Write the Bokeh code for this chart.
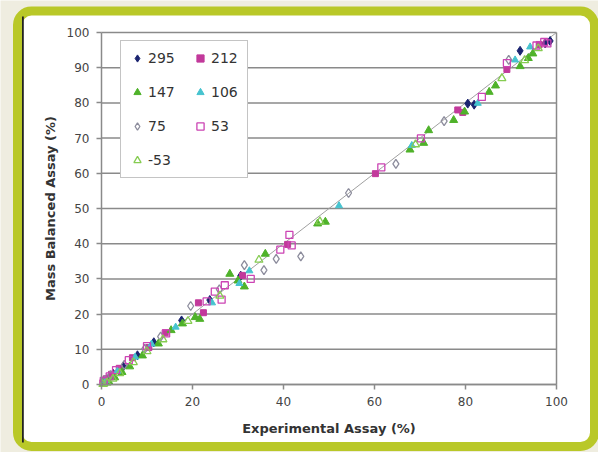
from bokeh.plotting import figure
from bokeh.models import BoxAnnotation, Legend, LegendItem, FixedTicker
from bokeh.embed import file_html
from bokeh.resources import INLINE

x_ticks = [0, 20, 40, 60, 80, 100]
y_ticks = [0, 10, 20, 30, 40, 50, 60, 70, 80, 90, 100]
diag_x = [0, 100]
diag_y = [0, 100]

s295_x = [0.4, 1.2, 2.6, 4.8, 7.9, 11.5, 17.6, 23.8, 30.6, 80.5, 81.9, 92.0, 97.5, 98.6]
s295_y = [0.6, 1.5, 3.0, 5.1, 8.3, 12.0, 18.2, 24.0, 30.9, 79.8, 79.5, 94.8, 96.9, 97.6]

s212_x = [0.3, 1.0, 2.2, 3.9, 6.8, 10.4, 14.0, 21.3, 22.4, 31.0, 40.9, 60.2, 78.3, 79.4, 89.1, 96.2]
s212_y = [0.5, 1.6, 2.9, 4.6, 7.6, 10.5, 14.7, 23.2, 20.4, 31.0, 39.8, 59.9, 78.0, 77.3, 89.5, 96.6]

s147_x = [0.5, 1.6, 2.9, 4.5, 6.2, 9.0, 12.5, 15.3, 17.8, 20.6, 21.6, 28.2, 30.0, 31.4, 36.0,
          47.5, 49.2, 67.8, 70.8, 71.9, 77.4, 79.8, 85.2, 86.6, 92.0, 93.8, 94.8]
s147_y = [0.2, 0.8, 2.0, 3.5, 5.1, 8.2, 11.6, 15.4, 17.3, 19.1, 18.6, 31.4, 29.5, 27.8, 37.1,
          45.7, 46.2, 66.7, 68.6, 72.2, 75.1, 77.5, 83.1, 84.9, 90.4, 92.7, 94.0]

s106_x = [1.0, 3.5, 7.4, 11.0, 16.3, 24.3, 30.3, 32.5, 52.2, 68.2, 82.7, 90.9, 94.2]
s106_y = [1.1, 3.8, 7.8, 11.5, 16.3, 23.2, 28.7, 32.3, 50.8, 67.9, 79.9, 92.2, 95.9]

s75_x = [0.8, 2.0, 5.0, 9.5, 13.0, 19.6, 25.9, 31.4, 35.7, 38.4, 43.8, 54.3, 64.7, 75.3, 89.5]
s75_y = [1.3, 2.7, 5.6, 10.1, 13.6, 22.3, 27.0, 33.9, 32.5, 35.7, 36.4, 54.4, 62.7, 74.8, 92.2]

s53_x = [0.5, 1.8, 3.2, 6.0, 10.0, 14.2, 23.1, 24.9, 26.4, 27.1, 32.8, 39.3, 41.3, 41.8,
         61.5, 70.2, 83.6, 89.1, 95.6, 97.3, 98.0]
s53_y = [1.0, 2.3, 4.1, 6.9, 10.9, 14.5, 23.6, 26.4, 24.1, 28.2, 30.0, 38.3, 42.5, 39.5,
         61.7, 69.9, 81.7, 91.3, 96.3, 97.3, 96.9]

sm53_x = [0.3, 1.2, 2.5, 4.0, 7.0, 10.0, 13.5, 19.0, 26.0, 34.6, 48.0, 69.0, 88.0, 93.0, 96.0]
sm53_y = [0.1, 0.5, 1.6, 3.2, 6.3, 9.4, 12.8, 18.0, 25.2, 35.4, 46.3, 68.2, 87.0, 92.1, 95.5]

FONT = "DejaVu Sans"
BEIGE = "#efede0"
LIME = "#b9c828"
GRID = "#8a8a8a"

W, H = 598, 452
# pixel positions (canvas) of the 0..100 data box
FL, FR, FT, FB = 101, 556, 32, 384
SX = (FR - FL) / 100.0
SY = (FB - FT) / 100.0
XR = (-FL / SX, 100 + (W - FR) / SX)
YR = (-(H - FB) / SY, 100 + FT / SY)
X_MIN, X_MAX = x_ticks[0], x_ticks[-1]
Y_MIN, Y_MAX = y_ticks[0], y_ticks[-1]


def dx(cx):
    return (cx - FL) / SX


def dy(cy):
    return (FB - cy) / SY


p = figure(width=W, height=H, output_backend="svg", toolbar_location=None,
           x_range=XR, y_range=YR,
           min_border=0, min_border_left=0, min_border_right=0,
           min_border_top=0, min_border_bottom=0)
p.border_fill_color = BEIGE
p.background_fill_color = BEIGE
p.outline_line_color = None

# decorative panel: white rounded box with lime border, dark shadow on left inside
p.add_layout(BoxAnnotation(left=dx(17), right=dx(594), top=dy(10.6), bottom=dy(446),
                           fill_color="white", fill_alpha=1.0,
                           line_color=LIME, line_width=9, line_alpha=1.0,
                           border_radius=14, level="image"))
p.add_layout(BoxAnnotation(left=dx(21.5), right=dx(23.3), top=dy(16), bottom=dy(442),
                           fill_color="#222222", fill_alpha=1.0, line_color=None,
                           level="image"))

# grid: horizontal lines across the plot area plus its right edge
p.xgrid.grid_line_color = None
p.ygrid.grid_line_color = None
p.segment(x0=X_MIN, y0=y_ticks, x1=X_MAX, y1=y_ticks, line_color=GRID, line_width=1.5)
p.segment(x0=X_MAX, y0=Y_MIN, x1=X_MAX, y1=Y_MAX, line_color=GRID, line_width=1.5)

for ax in (p.xaxis[0], p.yaxis[0]):
    ax.fixed_location = 0
    ax.bounds = (0, 100)
    ax.axis_line_color = GRID
    ax.axis_line_width = 1.5
    ax.major_tick_line_color = GRID
    ax.major_tick_line_width = 1.5
    ax.major_tick_out = 5
    ax.major_tick_in = 0
    ax.minor_tick_line_color = None
    ax.major_label_text_font = FONT
    ax.major_label_text_font_size = "12px"
    ax.major_label_text_color = "#444444"
    ax.axis_label_text_font = FONT
    ax.axis_label_text_font_size = "13px"
    ax.axis_label_text_font_style = "bold"
    ax.axis_label_text_color = "#333333"
    ax.major_label_standoff = 7

p.xaxis.ticker = FixedTicker(ticks=x_ticks)
p.yaxis.ticker = FixedTicker(ticks=y_ticks)
p.xaxis.axis_label = "Experimental Assay (%)"
p.yaxis.axis_label = "Mass Balanced Assay (%)"
p.xaxis.axis_label_standoff = 12
p.yaxis.axis_label_standoff = 6

p.line(diag_x, diag_y, line_color="#a0a0a0", line_width=1)

r295 = p.scatter(s295_x, s295_y, marker="diamond", size=9, fill_color="#1b2470", line_color="#1b2470")
r212 = p.scatter(s212_x, s212_y, marker="square", size=6, fill_color="#c2399b", line_color="#c2399b")
r147 = p.scatter(s147_x, s147_y, marker="triangle", size=8, fill_color="#4fb22a", line_color="#4fb22a")
r106 = p.scatter(s106_x, s106_y, marker="triangle", size=7, fill_color="#46c3cf", line_color="#46c3cf")
r75 = p.scatter(s75_x, s75_y, marker="diamond", size=9, fill_color=None, line_color="#8c8c9c", line_width=1.3)
r53 = p.scatter(s53_x, s53_y, marker="square", size=7, fill_color=None, line_color="#cc44b4", line_width=1.3)
rm53 = p.scatter(sm53_x, sm53_y, marker="triangle", size=8, fill_color=None, line_color="#86cc52", line_width=1.3)

legend = Legend(items=[
    LegendItem(label="295", renderers=[r295]),
    LegendItem(label="212", renderers=[r212]),
    LegendItem(label="147", renderers=[r147]),
    LegendItem(label="106", renderers=[r106]),
    LegendItem(label="75", renderers=[r75]),
    LegendItem(label="53", renderers=[r53]),
    LegendItem(label="-53", renderers=[rm53]),
], location=(120, H - 178), orientation="horizontal", ncols=2)
legend.label_text_font = FONT
legend.label_text_font_size = "14px"
legend.label_text_color = "#333333"
legend.label_standoff = 2
legend.label_width = 29
legend.label_height = 20
legend.glyph_width = 18
legend.glyph_height = 20
legend.spacing = 14
legend.padding = 7
legend.margin = 0
legend.border_line_color = GRID
legend.border_line_width = 1.5
legend.background_fill_color = "white"
legend.background_fill_alpha = 1.0
p.add_layout(legend, "center")

open("out.html", "w").write(file_html(p, INLINE))
